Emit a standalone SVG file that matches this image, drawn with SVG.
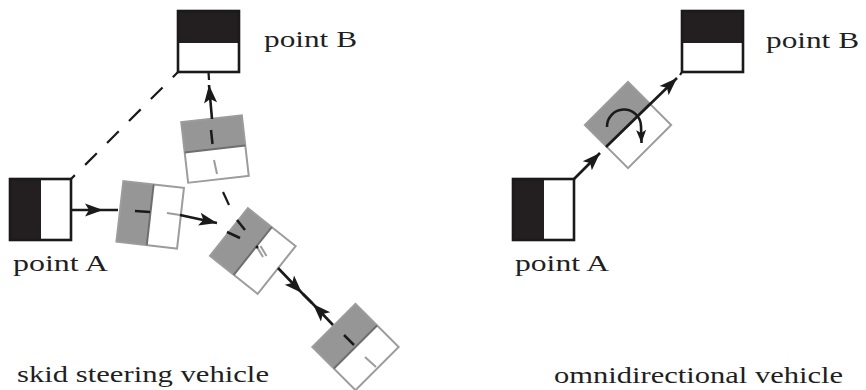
<svg xmlns="http://www.w3.org/2000/svg" width="866" height="390" viewBox="0 0 866 390">
<style>
  text { font-family: "Liberation Serif", "Times New Roman", serif; font-size: 23px; fill: #1f1f1f; }
  .pt-black { fill: #231f20; stroke: none; }
  .pt-box { fill: none; stroke: #1a1a1a; stroke-width: 2.6; }
  .veh-gray { fill: #969696; stroke: none; }
  .veh-box { fill: none; stroke: #9c9c9c; stroke-width: 2; }
  .veh-div { stroke: #6e6e6e; stroke-width: 2; }
  .tick { stroke: #1a1a1a; stroke-width: 2.5; }
  .gtick { stroke: #9c9c9c; stroke-width: 2; }
  .arrow { fill: none; stroke: #1a1a1a; stroke-width: 2.6; }
  .dash { fill: none; stroke: #1a1a1a; stroke-width: 2.2; }
</style>
<defs>
  <marker id="ah" viewBox="-19 -7 20 14" refX="0" refY="0" markerWidth="20" markerHeight="14" markerUnits="userSpaceOnUse" orient="auto">
    <path d="M0,0 L-18,-6.5 L-14,0 L-18,6.5 Z" fill="#1a1a1a"/>
  </marker>
  <marker id="ahs" viewBox="-14 -6 15 12" refX="0" refY="0" markerWidth="15" markerHeight="12" markerUnits="userSpaceOnUse" orient="auto">
    <path d="M0,0 L-13,-5 L-10,0 L-13,5 Z" fill="#1a1a1a"/>
  </marker>
  <g id="vehicle-shape">
    <rect x="-30.5" y="-30.5" width="30.5" height="61" class="veh-gray"/>
    <rect x="-30.5" y="-30.5" width="61" height="61" class="veh-box"/>
    <line x1="0" y1="-30.5" x2="0" y2="30.5" class="veh-div"/>
  </g>
</defs>

<!-- ===== Left: skid steering ===== -->
<g id="left-pointA">
  <rect x="10" y="179" width="31" height="61" class="pt-black"/>
  <rect x="10" y="179" width="61" height="61" class="pt-box"/>
  <text x="13" y="271" textLength="95" lengthAdjust="spacingAndGlyphs">point A</text>
</g>
<g id="left-pointB">
  <rect x="178" y="11" width="61" height="32" class="pt-black"/>
  <rect x="178" y="11" width="61" height="61" class="pt-box"/>
  <text x="264" y="47" textLength="93" lengthAdjust="spacingAndGlyphs">point B</text>
</g>

<g id="vehicle1">
  <use href="#vehicle-shape" transform="translate(150.2,214.8) rotate(6.5)"/>
  <line x1="135" y1="211" x2="150" y2="212" class="tick"/>
  <line x1="167" y1="213" x2="180" y2="215" class="gtick"/>
</g>
<g id="vehicle2">
  <use href="#vehicle-shape" transform="translate(215,149) rotate(83.5)"/>
  <line x1="211" y1="130" x2="212.5" y2="144" class="tick"/>
  <line x1="214" y1="160" x2="217" y2="174" class="gtick"/>
</g>
<g id="vehicle3">
  <use href="#vehicle-shape" transform="translate(252.8,251) rotate(38.5)"/>
  <line x1="237" y1="220" x2="245" y2="230" class="tick"/>
  <line x1="227" y1="232" x2="240" y2="238" class="tick"/>
  <line x1="257" y1="247" x2="263" y2="257" class="gtick" stroke-width="1.5"/>
  <line x1="260.5" y1="246" x2="266.5" y2="256" class="gtick" stroke-width="1.5"/>
  <circle cx="257" cy="247" r="1.5" fill="#1a1a1a"/>
</g>
<g id="vehicle4">
  <use href="#vehicle-shape" transform="translate(355.5,347) rotate(45)"/>
  <line x1="344" y1="335" x2="354" y2="345" class="tick"/>
  <line x1="365" y1="357" x2="376" y2="367" class="gtick"/>
</g>
<text id="label-skid" x="17" y="382" textLength="252" lengthAdjust="spacingAndGlyphs">skid steering vehicle</text>

<!-- ===== Right: omnidirectional ===== -->
<g id="right-pointA">
  <rect x="513" y="179" width="31" height="61" class="pt-black"/>
  <rect x="513" y="179" width="61" height="61" class="pt-box"/>
  <text x="515" y="271" textLength="94" lengthAdjust="spacingAndGlyphs">point A</text>
</g>
<g id="right-pointB">
  <rect x="682" y="11" width="61" height="32" class="pt-black"/>
  <rect x="682" y="11" width="61" height="61" class="pt-box"/>
  <text x="766" y="48" textLength="93" lengthAdjust="spacingAndGlyphs">point B</text>
</g>
<g id="vehicle-omni">
  <use href="#vehicle-shape" transform="translate(628,125) rotate(45)"/>
</g>
<text id="label-omni" x="554" y="383" textLength="289" lengthAdjust="spacingAndGlyphs">omnidirectional vehicle</text>

<!-- ===== Connectors ===== -->
<g id="connectors">
  <line x1="71" y1="179" x2="178" y2="72" class="dash" stroke-dasharray="16.5 14.5" stroke-dashoffset="11"/>
  <path d="M71,210 L103,210 L118,210" class="arrow" marker-mid="url(#ah)"/>
  <path d="M180,215 L217,223" class="arrow" marker-end="url(#ah)"/>
  <path d="M212,119 L209,85" class="arrow" marker-end="url(#ah)"/>
  <line x1="209" y1="80" x2="208.5" y2="72" class="dash"/>
  <line x1="223" y1="192" x2="229" y2="205" class="dash"/>
  <path d="M278,268 L302,293 L312,303" class="arrow" marker-mid="url(#ah)"/>
  <path d="M333,325 L313,304 L303,294" class="arrow" marker-mid="url(#ah)"/>

  <path d="M574,179 L600,153" class="arrow" marker-end="url(#ah)"/>
  <path d="M606,147 L677,78" class="arrow" marker-end="url(#ah)"/>
  <line x1="680" y1="75" x2="682" y2="72" class="dash"/>
  <path d="M607,127 A17,17 0 0 1 641,126 L641.5,143" class="arrow" stroke-width="2.2" marker-end="url(#ahs)"/>
</g>
</svg>
